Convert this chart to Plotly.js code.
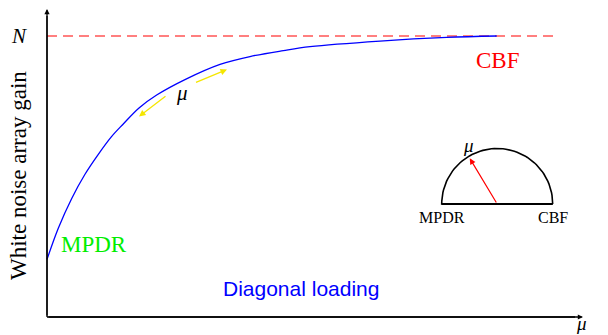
<!DOCTYPE html>
<html><head><meta charset="utf-8">
<script src="https://cdn.plot.ly/plotly-3.0.1.min.js"></script>
<style>html,body{margin:0;padding:0;background:#fff;}#chart{width:608px;height:335px;}</style>
</head><body><div id="chart"></div>
<script>
// ---- data (mu in arbitrary units, gain normalised so that N = 1) ----
const muValues   = [0, 0.211, 0.462, 0.710, 0.959, 1.202, 1.426, 1.720, 2.050, 2.579, 3.234, 3.794, 4.417, 4.916, 6.224, 7.471, 8.406];
const gainValues = [0.205, 0.316, 0.422, 0.508, 0.579, 0.641, 0.687, 0.744, 0.790, 0.845, 0.899, 0.927, 0.948, 0.962, 0.982, 0.995, 1.000];
const nLevel = 1;                 // the CBF bound N
const nLineEnd = 9.5;             // extent of the dashed N line
const insetAngleDeg = 121;        // mu pointer in the inset dial
const labels = {yTitle: 'White noise array gain', nTick: 'N', mu: 'μ',
                mpdr: 'MPDR', cbf: 'CBF', loading: 'Diagonal loading'};

// ---- coordinate frame ----
const X0 = 47, Y0 = 317, SX = 53.5, SY = 281, W = 608, H = 335;
const xRange = [-X0 / SX, (W - X0) / SX];
const yRange = [(Y0 - H) / SY, Y0 / SY];
const px = v => (v - X0) / SX;      // helper pixel -> x
const py = v => (Y0 - v) / SY;      // helper pixel -> y

// inset dial
const dial = {cx: px(497.2), cy: py(204), rx: 55.5 / SX, ry: 55.5 / SY};
const arcX = [], arcY = [];
for (let a = 0; a <= 180; a += 3) {
  arcX.push(dial.cx + dial.rx * Math.cos(a * Math.PI / 180));
  arcY.push(dial.cy + dial.ry * Math.sin(a * Math.PI / 180));
}
arcX.push(dial.cx + dial.rx); arcY.push(dial.cy);
const tipR = 0.96;
const tipX = dial.cx + tipR * dial.rx * Math.cos(insetAngleDeg * Math.PI / 180);
const tipY = dial.cy + tipR * dial.ry * Math.sin(insetAngleDeg * Math.PI / 180);

const serif = 'Liberation Serif, DejaVu Serif, serif';

const traces = [
  {x: [0, nLineEnd], y: [nLevel, nLevel], mode: 'lines',
   line: {color: '#ff0000', width: 1.2, dash: '10px,6px'}, hoverinfo: 'skip'},
  {x: muValues, y: gainValues, mode: 'lines',
   line: {color: '#0000ff', width: 1.3, shape: 'spline', smoothing: 1}, hoverinfo: 'skip'},
  {x: arcX, y: arcY, mode: 'lines', line: {color: '#000', width: 1.6}, hoverinfo: 'skip'}
];

function arrow(x, y, ax, ay, color, width, size) {
  return {x: x, y: y, ax: ax, ay: ay, xref: 'x', yref: 'y', axref: 'x', ayref: 'y',
          text: '', showarrow: true, arrowhead: 2, arrowsize: size || 1,
          arrowwidth: width, arrowcolor: color};
}
function label(x, y, text, size, color, family, extra) {
  return Object.assign({x: x, y: y, xref: 'x', yref: 'y', text: text, showarrow: false,
          xanchor: 'center', yanchor: 'middle',
          font: {size: size, color: color, family: family}}, extra || {});
}

const annotations = [
  // axes
  arrow(px(583), 0, 0, 0, '#000', 1.3, 0.8),
  arrow(0, py(9), 0, 0, '#000', 1.3, 0.8),
  // yellow mu arrows along the curve
  arrow(px(139), py(116.5), px(167), py(95), '#f5e600', 1.3, 1),
  arrow(px(227), py(69.5), px(194.5), py(83), '#f5e600', 1.3, 1),
  // inset pointer
  arrow(tipX, tipY, dial.cx, dial.cy, '#ff0000', 1.2, 1),
  // texts
  label(px(18.5), nLevel, '<i>' + labels.nTick + '</i>', 21, '#000', serif),
  label(px(18), py(176), labels.yTitle, 23, '#000', serif, {textangle: -90}),
  label(px(94), py(244), labels.mpdr, 23, '#00ee00', serif),
  label(px(497), py(60), labels.cbf, 23, '#ff0000', serif),
  label(px(300.5), py(288), labels.loading, 21, '#0000ff', 'Liberation Sans, Arial, sans-serif'),
  label(px(181.7), py(92.5), '<i>' + labels.mu + '</i>', 21, '#000', serif),
  label(px(581), py(323), '<i>' + labels.mu + '</i>', 19, '#000', serif),
  label(px(468.3), py(145), '<i>' + labels.mu + '</i>', 19, '#000', serif),
  label(dial.cx - dial.rx, py(217.3), labels.mpdr, 16, '#000', serif),
  label(dial.cx + dial.rx, py(217.3), labels.cbf, 16, '#000', serif)
];

const shapes = [
  {type: 'line', xref: 'x', yref: 'y', x0: 0, y0: 0, x1: px(575), y1: 0, line: {color: '#000', width: 1.3}},
  {type: 'line', xref: 'x', yref: 'y', x0: 0, y0: 0, x1: 0, y1: py(16), line: {color: '#000', width: 1.3}},
  {type: 'line', xref: 'x', yref: 'y', x0: dial.cx - dial.rx, y0: dial.cy, x1: dial.cx + dial.rx, y1: dial.cy,
   line: {color: '#000', width: 1.8}}
];

const layout = {
  width: W, height: H, margin: {l: 0, r: 0, t: 0, b: 0},
  paper_bgcolor: '#fff', plot_bgcolor: '#fff', showlegend: false,
  xaxis: {range: xRange, visible: false, fixedrange: true},
  yaxis: {range: yRange, visible: false, fixedrange: true},
  annotations: annotations, shapes: shapes
};
Plotly.newPlot('chart', traces, layout, {displayModeBar: false, staticPlot: true});
</script></body></html>
